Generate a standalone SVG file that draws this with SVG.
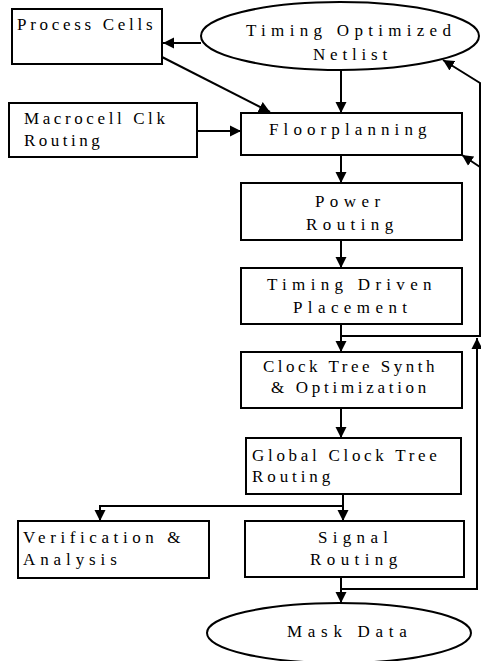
<svg xmlns="http://www.w3.org/2000/svg" width="481" height="661" viewBox="0 0 481 661">
<style>
.box{fill:#fff;stroke:#000;stroke-width:2}
.ell{fill:#fff;stroke:#000;stroke-width:2}
.t{font-family:"Liberation Serif","Times New Roman",serif;font-size:17px;fill:#000}
.c{fill:none;stroke:#000;stroke-width:2}
</style>
<defs>
<marker id="ah" markerUnits="userSpaceOnUse" markerWidth="12" markerHeight="12" refX="11" refY="6" orient="auto">
<path d="M0,0.5 L11,6 L0,11.5 z" fill="#000"/>
</marker>
</defs>
<rect width="481" height="661" fill="#fff"/>
<g id="connectors">
<line class="c" x1="201" y1="43" x2="163" y2="43" marker-end="url(#ah)"/>
<line class="c" x1="162" y1="57" x2="270" y2="112" marker-end="url(#ah)"/>
<line class="c" x1="341" y1="70" x2="341" y2="113" marker-end="url(#ah)"/>
<line class="c" x1="197" y1="131" x2="241" y2="131" marker-end="url(#ah)"/>
<line class="c" x1="341" y1="155" x2="341" y2="183" marker-end="url(#ah)"/>
<line class="c" x1="341" y1="240" x2="341" y2="268" marker-end="url(#ah)"/>
<line class="c" x1="341" y1="324" x2="341" y2="352" marker-end="url(#ah)"/>
<path class="c" d="M341,336 H480 V83 L443,60" marker-end="url(#ah)"/>
<line class="c" x1="480" y1="167" x2="462" y2="155" marker-end="url(#ah)"/>
<line class="c" x1="341" y1="408" x2="341" y2="438" marker-end="url(#ah)"/>
<path class="c" d="M343,494 V506 H100 V521" marker-end="url(#ah)"/>
<line class="c" x1="343" y1="506" x2="343" y2="521" marker-end="url(#ah)"/>
<line class="c" x1="341" y1="577" x2="341" y2="603" marker-end="url(#ah)"/>
<path class="c" d="M341,589 H477 V338" marker-end="url(#ah)"/>
</g>
<g id="netlist">
<ellipse class="ell" cx="340" cy="36" rx="139" ry="34"/>
<text class="t" x="246" y="36" letter-spacing="5.3">Timing Optimized</text>
<text class="t" x="313" y="60" letter-spacing="4.8">Netlist</text>
</g>
<g id="process-cells">
<rect class="box" x="12" y="9" width="150" height="55"/>
<text class="t" x="17" y="30" letter-spacing="3.7">Process Cells</text>
</g>
<g id="macrocell">
<rect class="box" x="9" y="103" width="188" height="54"/>
<text class="t" x="24" y="124" letter-spacing="3.6">Macrocell Clk</text>
<text class="t" x="24" y="146" letter-spacing="3.5">Routing</text>
</g>
<g id="floorplanning">
<rect class="box" x="241" y="113" width="221" height="42"/>
<text class="t" x="269" y="135" letter-spacing="5.1">Floorplanning</text>
</g>
<g id="power-routing">
<rect class="box" x="241" y="183" width="221" height="57"/>
<text class="t" x="315" y="207" letter-spacing="5.4">Power</text>
<text class="t" x="306" y="230" letter-spacing="5.4">Routing</text>
</g>
<g id="timing-driven">
<rect class="box" x="241" y="268" width="221" height="56"/>
<text class="t" x="267" y="290" letter-spacing="5.3">Timing Driven</text>
<text class="t" x="293" y="313" letter-spacing="5.4">Placement</text>
</g>
<g id="clock-tree-synth">
<rect class="box" x="241" y="352" width="221" height="56"/>
<text class="t" x="263" y="372" letter-spacing="3.5">Clock Tree Synth</text>
<text class="t" x="271" y="393" letter-spacing="3.7">&amp; Optimization</text>
</g>
<g id="global-clock">
<rect class="box" x="246" y="438" width="215" height="56"/>
<text class="t" x="252" y="461" letter-spacing="3.7">Global Clock Tree</text>
<text class="t" x="252" y="482" letter-spacing="3.9">Routing</text>
</g>
<g id="verification">
<rect class="box" x="18" y="521" width="191" height="57"/>
<text class="t" x="23" y="543" letter-spacing="4.6">Verification &amp;</text>
<text class="t" x="23" y="565" letter-spacing="4.9">Analysis</text>
</g>
<g id="signal-routing">
<rect class="box" x="245" y="521" width="219" height="56"/>
<text class="t" x="318" y="543" letter-spacing="5.3">Signal</text>
<text class="t" x="310" y="565" letter-spacing="5.4">Routing</text>
</g>
<g id="mask-data">
<ellipse class="ell" cx="339" cy="633" rx="132" ry="30"/>
<text class="t" x="287" y="637" letter-spacing="5.7">Mask Data</text>
</g>
</svg>
